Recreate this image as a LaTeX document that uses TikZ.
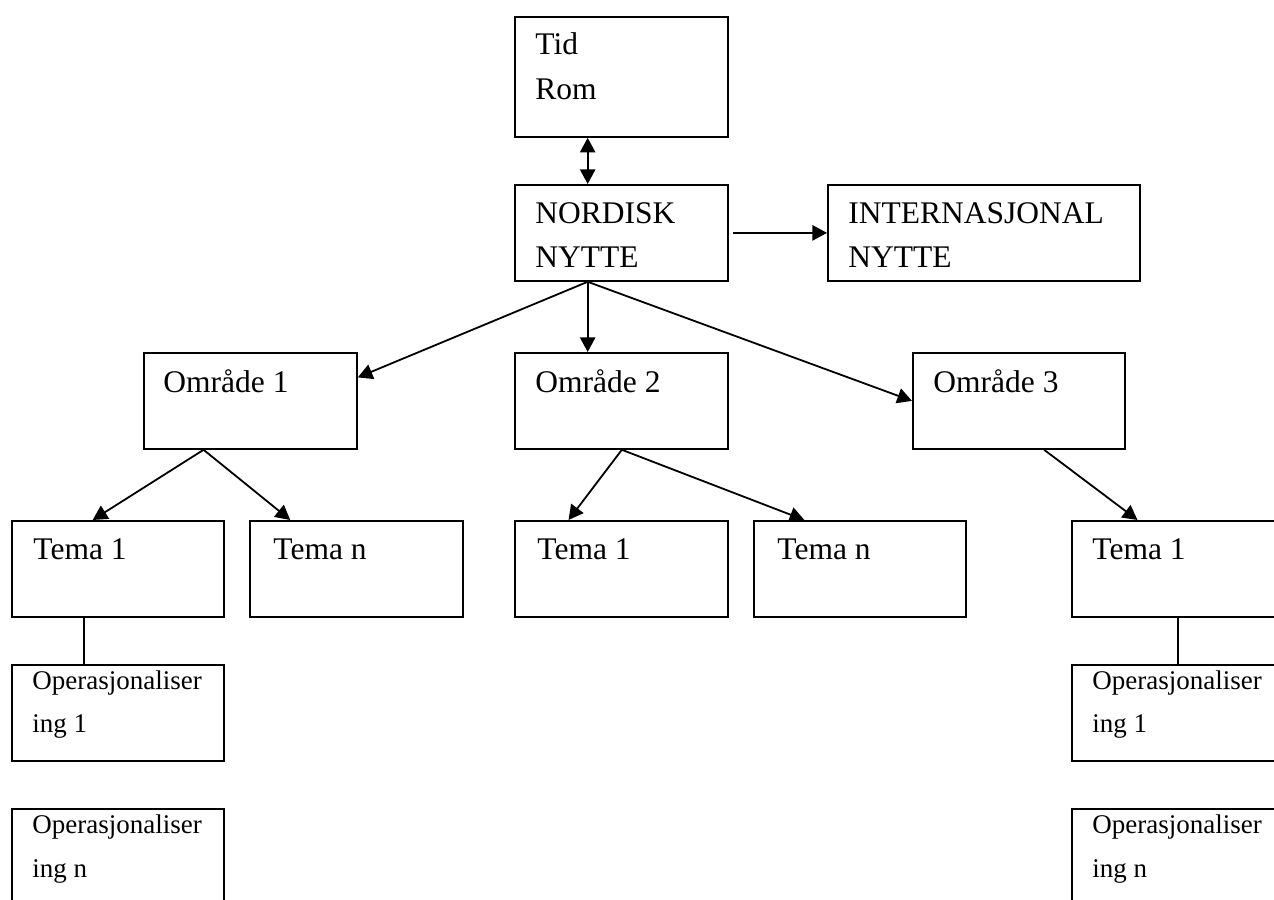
\documentclass[tikz,border=0pt]{standalone}
\usepackage{fontspec}
\setmainfont{Liberation Serif}
\usetikzlibrary{arrows.meta,calc}
\newlength\pxu
\setlength\pxu{0.4444pt}
\begin{document}
\begin{tikzpicture}[x=0.4444pt,y=-0.4444pt,
  box/.style={draw, line width=0.8pt, inner sep=0pt, anchor=north west},
  big/.style={anchor=base west, inner sep=0pt, font=\fontsize{14}{20}\selectfont},
  small/.style={anchor=base west, inner sep=0pt, font=\fontsize{12}{18}\selectfont},
  con/.style={line width=0.8pt},
  arr/.style={line width=0.8pt, -{Triangle[length=6.5pt,width=6.8pt]}},
  darr/.style={line width=0.8pt, {Triangle[length=6.5pt,width=6.8pt]}-{Triangle[length=6.5pt,width=6.8pt]}}]

\useasboundingbox (0,0) rectangle (1274,900);
\clip (0,0) rectangle (1274,900);

% boxes
\node[box, minimum width=213*\pxu, minimum height=120*\pxu] (tid) at (514,16) {};
\node[box, minimum width=213*\pxu, minimum height=96*\pxu] (nord) at (514,184) {};
\node[box, minimum width=312*\pxu, minimum height=96*\pxu] (intl) at (827,184) {};
\node[box, minimum width=213*\pxu, minimum height=96*\pxu] (omr1) at (143,352) {};
\node[box, minimum width=213*\pxu, minimum height=96*\pxu] (omr2) at (514,352) {};
\node[box, minimum width=212*\pxu, minimum height=96*\pxu] (omr3) at (912,352) {};
\node[box, minimum width=212*\pxu, minimum height=96*\pxu] (tema1a) at (11,520) {};
\node[box, minimum width=213*\pxu, minimum height=96*\pxu] (temana) at (249,520) {};
\node[box, minimum width=213*\pxu, minimum height=96*\pxu] (tema1b) at (514,520) {};
\node[box, minimum width=212*\pxu, minimum height=96*\pxu] (temanb) at (753,520) {};
\node[box, minimum width=212*\pxu, minimum height=96*\pxu] (tema1c) at (1071,520) {};
\node[box, minimum width=212*\pxu, minimum height=96*\pxu] (op1a) at (11,664) {};
\node[box, minimum width=212*\pxu, minimum height=96*\pxu] (opna) at (11,808) {};
\node[box, minimum width=212*\pxu, minimum height=96*\pxu] (op1c) at (1071,664) {};
\node[box, minimum width=212*\pxu, minimum height=96*\pxu] (opnc) at (1071,808) {};

% texts
\node[big] (ttid1) at (535,55) {Tid};
\node[big] (ttid2) at (535,100) {Rom};
\node[big] (tnord1) at (535,224) {NORDISK};
\node[big] (tnord2) at (535,268) {NYTTE};
\node[big] (tintl1) at (848,224) {INTERNASJONAL};
\node[big] (tintl2) at (848,268) {NYTTE};
\node[big] (tomr1) at (163,393) {Område 1};
\node[big] (tomr2) at (535,393) {Område 2};
\node[big] (tomr3) at (933,393) {Område 3};
\node[big] (ttema1a) at (33,560) {Tema 1};
\node[big] (ttemana) at (273,560) {Tema n};
\node[big] (ttema1b) at (537,560) {Tema 1};
\node[big] (ttemanb) at (777,560) {Tema n};
\node[big] (ttema1c) at (1092,560) {Tema 1};
\node[small] (top1a1) at (32,690) {Operasjonaliser};
\node[small] (top1a2) at (32,733) {ing 1};
\node[small] (topna1) at (32,834) {Operasjonaliser};
\node[small] (topna2) at (32,878) {ing n};
\node[small] (top1c1) at (1092,690) {Operasjonaliser};
\node[small] (top1c2) at (1092,733) {ing 1};
\node[small] (topnc1) at (1092,834) {Operasjonaliser};
\node[small] (topnc2) at (1092,878) {ing n};

% connectors
\draw[darr] ($(tid.south west)!0.343!(tid.south east)$) -- ($(nord.north west)!0.343!(nord.north east)$);
\draw[arr] ($(nord.east)+(4,0)$) -- (intl.west);
\coordinate (nb) at ($(nord.south west)!0.343!(nord.south east)$);
\draw[arr] (nb) -- ($(omr1.north east)!0.26!(omr1.south east)$);
\draw[arr] (nb) -- ($(omr2.north west)!0.343!(omr2.north east)$);
\draw[arr] (nb) -- (omr3.west);
\coordinate (o1b) at ($(omr1.south west)!0.282!(omr1.south east)$);
\draw[arr] (o1b) -- ($(tema1a.north west)!0.382!(tema1a.north east)$);
\draw[arr] (o1b) -- ($(temana.north west)!0.192!(temana.north east)$);
\coordinate (o2b) at ($(omr2.south west)!0.502!(omr2.south east)$);
\draw[arr] (o2b) -- ($(tema1b.north west)!0.254!(tema1b.north east)$);
\draw[arr] (o2b) -- ($(temanb.north west)!0.24!(temanb.north east)$);
\coordinate (o3b) at ($(omr3.south west)!0.618!(omr3.south east)$);
\draw[arr] (o3b) -- ($(tema1c.north west)!0.311!(tema1c.north east)$);
\draw[con] ($(tema1a.south west)!0.34!(tema1a.south east)$) -- ($(op1a.north west)!0.34!(op1a.north east)$);
\draw[con] (tema1c.south) -- (op1c.north);
\end{tikzpicture}
\end{document}
